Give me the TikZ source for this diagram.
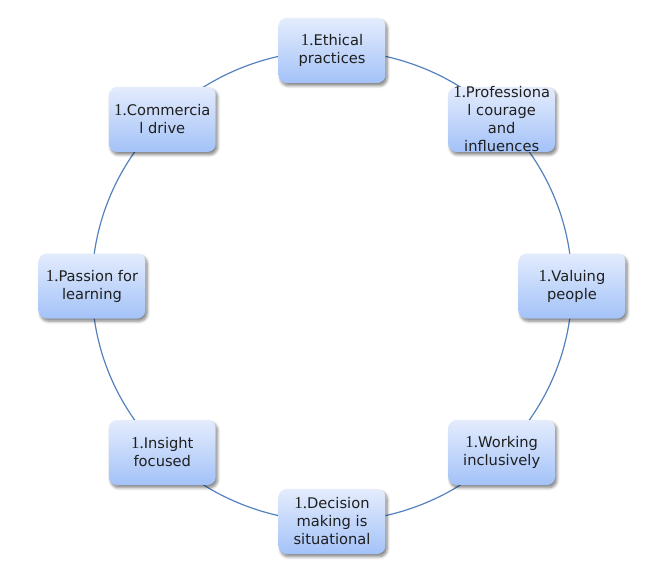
\documentclass[tikz,border=0pt]{standalone}
\usepackage{fontspec}
\setmainfont{DejaVu Sans}
\newfontfamily\numfont[Scale=1.15]{Liberation Serif}
\usetikzlibrary{shadows.blur}

\definecolor{ringblue}{RGB}{84,130,190}
\definecolor{boxtop}{RGB}{228,236,253}
\definecolor{boxbot}{RGB}{163,194,248}
\newcommand{\one}{{\numfont 1.}}

\tikzset{
  ring/.style={draw=ringblue, line width=0.9pt},
  stepbox/.style={rounded corners=6pt, minimum width=80pt, minimum height=48.75pt,
    inner sep=0pt, top color=boxtop, bottom color=boxbot,
    blur shadow={shadow xshift=1.4pt, shadow yshift=-2pt, shadow blur steps=6, shadow opacity=50}},
  boxtext/.style={font=\fontsize{11}{13.5}\selectfont, align=center, text=black!88}
}

\begin{document}
\begin{tikzpicture}[x=0.75pt, y=0.75pt]
\useasboundingbox (-332,-289) rectangle (325,286);
\coordinate (hub) at (0,0);
\draw[ring] (hub) ellipse [x radius=240, y radius=235.5];

\node[stepbox, label={[boxtext]center:{\one Ethical\\practices}}] (ethical) at (90:240 and 235.5) {};
\node[stepbox, label={[boxtext]center:{\one Professiona\\l courage\\and\\influences}}] (courage) at (45:240 and 235.5) {};
\node[stepbox, label={[boxtext]center:{\one Valuing\\people}}] (valuing) at (0:240 and 235.5) {};
\node[stepbox, label={[boxtext]center:{\one Working\\inclusively}}] (working) at (-45:240 and 235.5) {};
\node[stepbox, label={[boxtext]center:{\one Decision\\making is\\situational}}] (decision) at (-90:240 and 235.5) {};
\node[stepbox, label={[boxtext]center:{\one Insight\\focused}}] (insight) at (-135:240 and 235.5) {};
\node[stepbox, label={[boxtext]center:{\one Passion for\\learning}}] (passion) at (180:240 and 235.5) {};
\node[stepbox, label={[boxtext]center:{\one Commercia\\l drive}}] (commercial) at (135:240 and 235.5) {};
\end{tikzpicture}
\end{document}
